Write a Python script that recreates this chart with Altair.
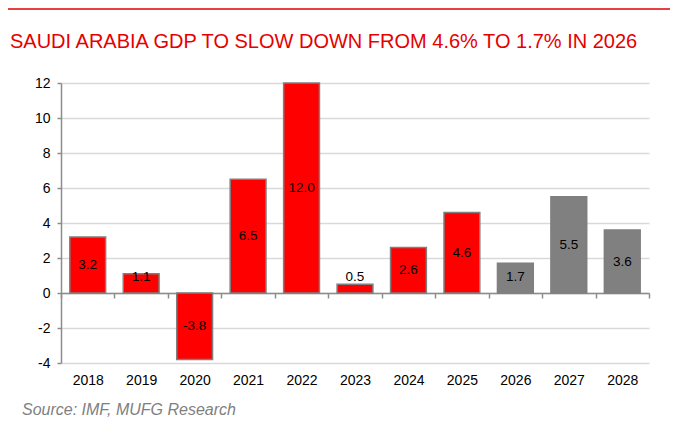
import altair as alt
import pandas as pd

years = ["2018", "2019", "2020", "2021", "2022", "2023", "2024", "2025", "2026", "2027", "2028"]
values = [3.2, 1.1, -3.8, 6.5, 12.0, 0.5, 2.6, 4.6, 1.7, 5.5, 3.6]
kinds = ["Actual"] * 8 + ["Forecast"] * 3
y_ticks = [-4, -2, 0, 2, 4, 6, 8, 10, 12]
title_text = "SAUDI ARABIA GDP TO SLOW DOWN FROM 4.6% TO 1.7% IN 2026"
source_text = "Source: IMF, MUFG Research"

df = pd.DataFrame({"year": years, "value": values, "kind": kinds})
df["label"] = [f"{v:.1f}" for v in values]

FONT = "Liberation Sans"
W, H = 588, 280
yscale = alt.Scale(domain=[-4, 12], nice=False, zero=False)
yaxis = alt.Axis(
    values=y_ticks,
    labelExpr="datum.value",
    labelOverlap=False,
    domainColor="#8c8c8c",
    domainWidth=1.5,
    tickColor="#8c8c8c",
    tickWidth=1.5,
    tickSize=4,
    labelPadding=7,
    labelFont=FONT,
    labelFontSize=14,
    labelColor="#000000",
    gridColor="#d9d9d9",
    gridWidth=1.5,
)

base = alt.Chart(df).encode(
    x=alt.X(
        "year:N",
        sort=years,
        title=None,
        scale=alt.Scale(paddingInner=0, paddingOuter=0),
        axis=alt.Axis(
            tickBand="extent",
            offset=-70,
            domainColor="#8c8c8c",
            domainWidth=1.5,
            tickColor="#8c8c8c",
            tickWidth=1.5,
            tickSize=5,
            labelPadding=75,
            labelBaseline="top",
            labelAngle=0,
            labelFont=FONT,
            labelFontSize=14,
            labelColor="#000000",
            grid=False,
        ),
    )
)

bars = base.mark_bar(
    width=alt.RelativeBandSize(0.67), stroke="#7f7f7f", strokeWidth=1.5
).encode(
    y=alt.Y("value:Q", title=None, scale=yscale, axis=yaxis),
    color=alt.Color(
        "kind:N",
        scale=alt.Scale(domain=["Actual", "Forecast"], range=["#ff0000", "#808080"]),
        legend=None,
    ),
)

labels = base.transform_calculate(
    ly="datum.value > 0 ? max(datum.value / 2, 0.9) : datum.value / 2"
).mark_text(font=FONT, fontSize=13.5, color="#000000", baseline="middle").encode(
    y=alt.Y("ly:Q", title=None, scale=yscale, axis=yaxis),
    text=alt.Text("label:N"),
)

top_rule = alt.Chart(pd.DataFrame({"a": [0]})).mark_rule(color="#e00000", strokeWidth=1.5).encode(
    x=alt.value(-55), x2=alt.value(609), y=alt.value(-74)
)

title = alt.Chart(pd.DataFrame({"t": [title_text]})).mark_text(
    font=FONT, fontSize=20, color="#e60000", align="left", baseline="alphabetic"
).encode(text="t:N", x=alt.value(-51), y=alt.value(-35))

source = alt.Chart(pd.DataFrame({"t": [source_text]})).mark_text(
    font=FONT, fontSize=16, fontStyle="italic", color="#7f7f7f", align="left", baseline="alphabetic"
).encode(text="t:N", x=alt.value(-39), y=alt.value(332))

chart = alt.layer(bars, labels, top_rule, title, source).properties(
    width=W,
    height=H,
    autosize=alt.AutoSizeParams(type="none"),
    padding={"left": 53, "top": 75, "right": 36, "bottom": 54},
).configure_view(stroke=None)

chart.save("out.html", embed_options={"renderer": "svg", "actions": False})
